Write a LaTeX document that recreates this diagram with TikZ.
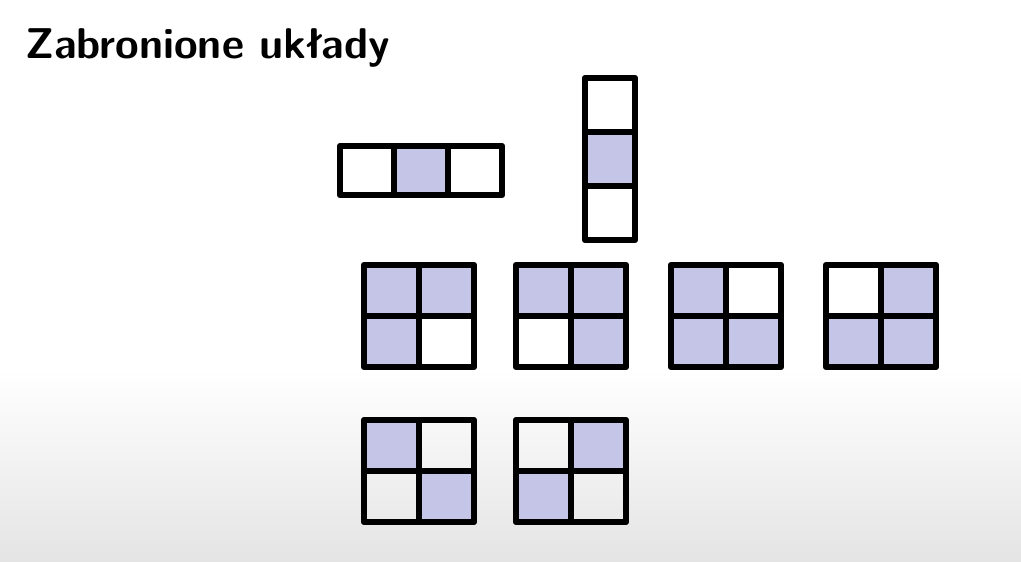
\documentclass[tikz,border=0pt]{standalone}
\usetikzlibrary{positioning}
\definecolor{shade}{RGB}{197,198,231}
\definecolor{bggray}{RGB}{228,228,228}
\tikzset{
  cellbox/.style={draw=black, line width=6.5pt, line join=round, minimum width=55pt, minimum height=51pt, inner sep=0pt, outer sep=0pt, anchor=north west},
  on/.style={fill=shade},
  title/.style={font=\sffamily\bfseries\fontsize{43}{51}\selectfont, anchor=base west, inner sep=0pt}
}
\begin{document}
\begin{tikzpicture}[x=1pt,y=-1pt]
\useasboundingbox (0,0) rectangle (1021,562);
\fill[white] (0,0) rectangle (1021,370);
\shade[top color=white, bottom color=bggray] (0,370) rectangle (1021,562);
\node[title] (t) at (25,58) {Zabronione układy};
% horizontal triple
\begin{scope}[every node/.style={cellbox, minimum width=54pt, minimum height=49pt}]
\node (h1) at (340,146) {};
\node[on] (h2) at (394,146) {};
\node (h3) at (448,146) {};
\end{scope}
% vertical triple
\begin{scope}[every node/.style={cellbox, minimum width=50pt, minimum height=54pt}]
\node (v1) at (585,78) {};
\node[on] (v2) at (585,132) {};
\node (v3) at (585,186) {};
\end{scope}
% 2x2 grids
\newcommand\quadgrid[6]{%
  \node[cellbox,#3] (#1a) at (#2) {};
  \node[cellbox,#4] (#1b) at (#1a.north east) {};
  \node[cellbox,#5] (#1c) at (#1a.south west) {};
  \node[cellbox,#6] (#1d) at (#1a.south east) {};
}
\coordinate (p1) at (364,265);
\coordinate (p2) at (516,265);
\coordinate (p3) at (671,265);
\coordinate (p4) at (826,265);
\coordinate (p5) at (364,420);
\coordinate (p6) at (516,420);
\quadgrid{ga}{p1}{on}{on}{on}{}
\quadgrid{gb}{p2}{on}{on}{}{on}
\quadgrid{gc}{p3}{on}{}{on}{on}
\quadgrid{gd}{p4}{}{on}{on}{on}
\quadgrid{ge}{p5}{on}{}{}{on}
\quadgrid{gf}{p6}{}{on}{on}{}
\end{tikzpicture}
\end{document}
